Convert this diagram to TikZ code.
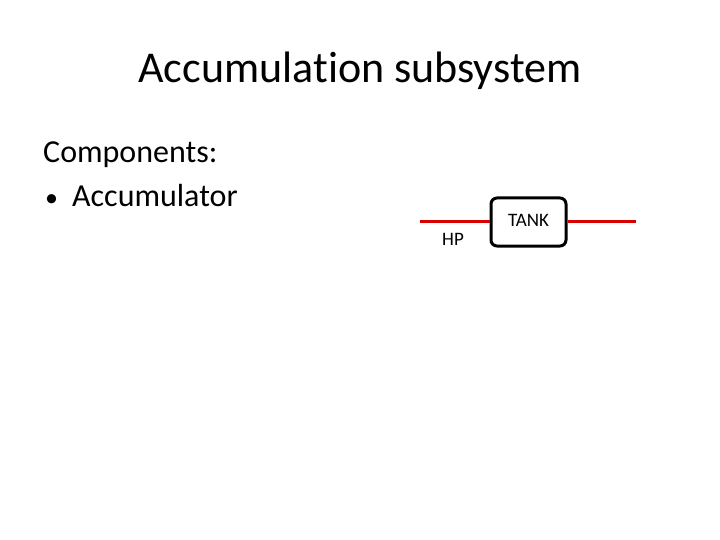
\documentclass[tikz,border=0pt]{standalone}
\usepackage{fontspec}
\setmainfont[Ligatures=NoCommon]{Carlito}
\usetikzlibrary{positioning}
\tikzset{
  tankbox/.style={rectangle, rounded corners=6pt, draw=black, line width=3pt,
    minimum width=75pt, minimum height=48pt, inner sep=0pt},
  pipe/.style={draw=red!85!black, line width=3pt},
  lbl/.style={font=\fontsize{19}{22}\selectfont, inner sep=0pt},
}
\begin{document}
\begin{tikzpicture}[x=1pt,y=-1pt]
  \useasboundingbox (0,0) rectangle (720,540);
  \node[font=\fontsize{44}{48}\selectfont, anchor=base] (title) at (360,83) {Accumulation subsystem};
  \node[font=\fontsize{32}{36}\selectfont, anchor=base west, inner sep=0pt] (comp) at (43,163) {Components:};
  \node[font=\fontsize{32}{36}\selectfont, anchor=base west, inner sep=0pt] (acc) at (45,207)
    {{\fontsize{26}{30}\selectfont\textbullet}\hspace{14pt}Accumulator};
  \node[tankbox] (tank) at (528.5,222) {};
  \node[lbl, anchor=base] (tanklbl) at (528.5,226) {TANK};
  \coordinate (in) at (420,222);
  \coordinate (out) at (636,222);
  \draw[pipe] (in) -- (tank.west);
  \draw[pipe] (tank.east) -- (out);
  \node[lbl, anchor=base] (hp) at (453,245) {HP};
\end{tikzpicture}
\end{document}
